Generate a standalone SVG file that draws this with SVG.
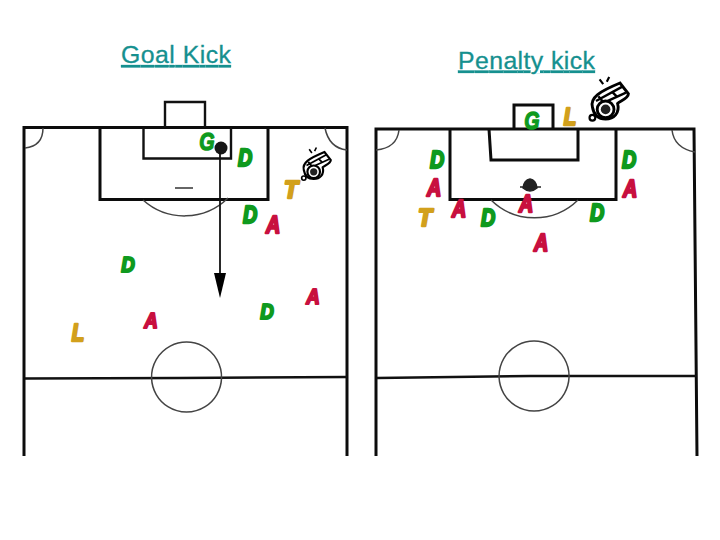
<svg xmlns="http://www.w3.org/2000/svg" width="720" height="540" viewBox="0 0 720 540">
<style>
.l{fill:none;stroke:#0c0c0c;stroke-width:3}
.m{fill:none;stroke:#111;stroke-width:2.400}
.t{fill:none;stroke:#444;stroke-width:1.500}
.h{font-family:"Liberation Sans",Arial,sans-serif;font-size:24.800px;fill:#15908f;stroke:#15908f;stroke-width:.3;text-decoration:underline}
.p{font-family:"Liberation Sans",Arial,sans-serif;font-size:24px;font-weight:bold;font-style:italic;text-anchor:middle;stroke-width:2.400;stroke-linejoin:round}
.g{fill:#0f9a1e;stroke:#0f9a1e}
.r{fill:#c8103f;stroke:#c8103f}
.y{fill:#d2a01c;stroke:#d2a01c}
.thin{stroke-width:1.400}
</style>
<defs>
<g id="whistle">
<path d="M2 20C0 12 8 7 25 0L32 9C32 13 25 15 23 17C25 25 20 30 13 30C6 30 3 26 2 20Z" fill="#fff" stroke="#000" stroke-width="2.400"/>
<path d="M5 15L27 3M8 18L30 8M7 11L12 17M18 7L22 11" fill="none" stroke="#000" stroke-width="2"/>
<circle cx="13" cy="22" r="7" fill="#fff" stroke="#000" stroke-width="2.400"/>
<circle cx="13" cy="22" r="4" fill="#222"/>
<circle cx="2" cy="29" r="2.400" fill="#fff" stroke="#000" stroke-width="1.800"/>
<path d="M8 -3L11 1M16 -5L14 -1" stroke="#000" stroke-width="1.800" fill="none"/>
</g>
</defs>
<text class="h" x="121" y="63" textLength="110" lengthAdjust="spacing">Goal Kick</text>
<text class="h" x="458" y="68.500" textLength="137" lengthAdjust="spacing">Penalty kick</text>

<g id="left-pitch">
<path class="l" d="M24 456V127.500H347V456"/>
<path class="m" d="M25 378.500L180 378L347 377"/>
<path class="t" d="M186.500 342a35 35 0 1 0 .1 0Z"/>
<path class="l" d="M100 127.500V199.500H268V127.500"/>
<path class="m" d="M143.500 127.500V158.500H231V127.500"/>
<path class="m" d="M165 127V102H205V127"/>
<path class="t" d="M143 200A62 62 0 0 0 228 198"/>
<path class="t" d="M43 128Q43 146 25 148M325 128Q329 148 347 150"/>
<path d="M175 188H193" stroke="#333" stroke-width="1.500"/>
</g>
<g id="left-connectors">
<circle cx="221" cy="148" r="6.500" fill="#161616"/>
<path d="M220 152V275" stroke="#111" stroke-width="1.800"/>
<path d="M214 273H226L220 298Z" fill="#000"/>
</g>
<g id="right-pitch">
<path class="l" d="M376 456V129H694L697 456"/>
<path class="m" d="M377 378L530 376L697 376"/>
<path class="t" d="M534 341a35 35 0 1 0 .1 0Z"/>
<path class="l" d="M450 129V199.500H616V129"/>
<path class="l" d="M489 129L491 160H578V129"/>
<path class="l" d="M514 129V105H553V129"/>
<path class="t" d="M491 200A62 62 0 0 0 578 200"/>
<path class="t" d="M399 130Q397 148 376 150M672 130Q674 148 695 152"/>
<path d="M523 188Q524 180 530 179Q536 180 537 188Q530 194 523 188Z M520 187H541" fill="#222" stroke="#222" stroke-width="1.500"/>
</g>
<use id="whistle-left" href="#whistle" transform="translate(302,152) scale(.9)"/>
<use id="whistle-right" href="#whistle" transform="translate(590,83) scale(1.200)"/>
<g id="players-left">
<text class="p g thin" transform="translate(207,150) scale(.82,1)">G</text>
<text class="p g" transform="translate(245,166) scale(.82,1)">D</text>
<text class="p y" transform="translate(291,198) scale(.95,1)">T</text>
<text class="p g" transform="translate(250,223) scale(.82,1)">D</text>
<text class="p r" transform="translate(273,233) scale(.82,1)">A</text>
<text class="p g" transform="translate(128,272) scale(.78,.9)">D</text>
<text class="p r" transform="translate(313,304) scale(.78,.9)">A</text>
<text class="p g" transform="translate(267,319) scale(.78,.9)">D</text>
<text class="p r" transform="translate(151,328) scale(.78,.9)">A</text>
<text class="p y" transform="translate(78,341) scale(.85,1)">L</text>
</g>
<g id="players-right">
<text class="p g thin" transform="translate(532,129) scale(.82,1)">G</text>
<text class="p y" transform="translate(570,125) scale(.85,1)">L</text>
<text class="p g" transform="translate(437,168) scale(.82,1)">D</text>
<text class="p r" transform="translate(434,196) scale(.82,1)">A</text>
<text class="p y" transform="translate(425,226) scale(.95,1)">T</text>
<text class="p r" transform="translate(459,217) scale(.82,1)">A</text>
<text class="p g" transform="translate(488,226) scale(.82,1)">D</text>
<text class="p r" transform="translate(526,212) scale(.82,1)">A</text>
<text class="p g" transform="translate(597,221) scale(.82,1)">D</text>
<text class="p r" transform="translate(541,251) scale(.82,1)">A</text>
<text class="p g" transform="translate(629,168) scale(.82,1)">D</text>
<text class="p r" transform="translate(630,197) scale(.82,1)">A</text>
</g>
</svg>
